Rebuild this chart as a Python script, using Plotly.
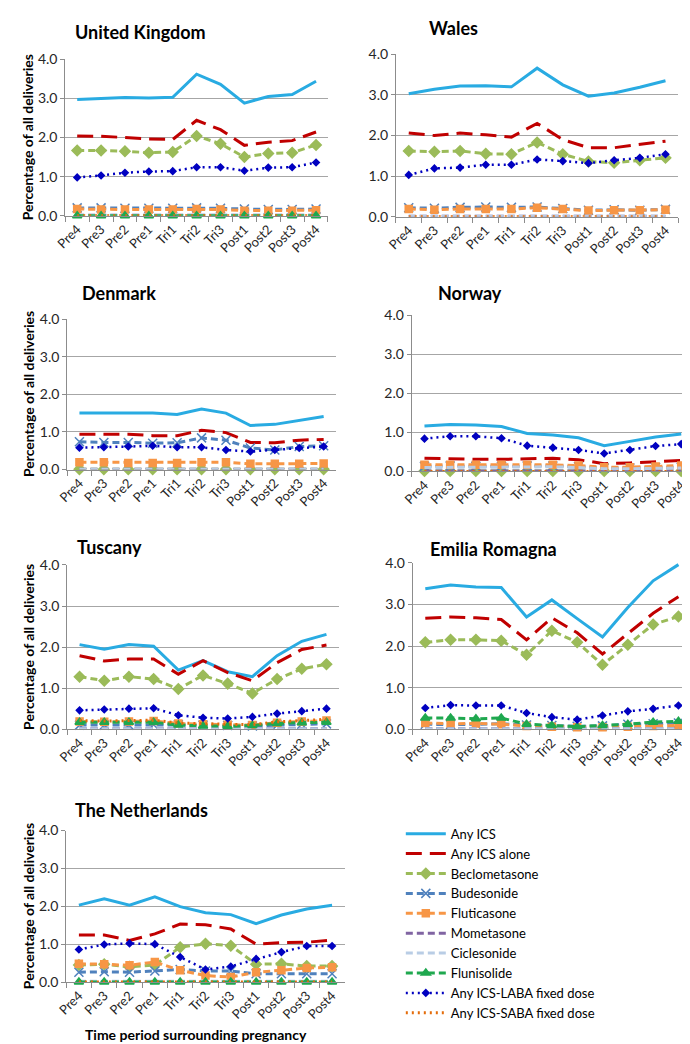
import plotly.graph_objects as go

periods = ["Pre4", "Pre3", "Pre2", "Pre1", "Tri1", "Tri2", "Tri3", "Post1", "Post2", "Post3", "Post4"]

series_names = ["Any ICS", "Any ICS alone", "Beclometasone", "Budesonide", "Fluticasone",
                "Mometasone", "Ciclesonide", "Flunisolide", "Any ICS-LABA fixed dose",
                "Any ICS-SABA fixed dose"]

uk = {
    "Any ICS": [2.97, 2.99, 3.02, 3.01, 3.03, 3.62, 3.36, 2.88, 3.05, 3.10, 3.44],
    "Any ICS alone": [2.04, 2.03, 2.00, 1.96, 1.95, 2.44, 2.20, 1.80, 1.88, 1.92, 2.14],
    "Beclometasone": [1.67, 1.67, 1.65, 1.61, 1.63, 2.04, 1.84, 1.50, 1.59, 1.61, 1.81],
    "Budesonide": [0.20, 0.20, 0.19, 0.19, 0.19, 0.20, 0.19, 0.17, 0.16, 0.16, 0.17],
    "Fluticasone": [0.17, 0.16, 0.16, 0.16, 0.16, 0.17, 0.16, 0.13, 0.13, 0.13, 0.14],
    "Mometasone": [0.01] * 11,
    "Ciclesonide": [0.01] * 11,
    "Flunisolide": [0.0] * 11,
    "Any ICS-LABA fixed dose": [0.98, 1.03, 1.10, 1.13, 1.14, 1.24, 1.24, 1.15, 1.23, 1.24, 1.36],
    "Any ICS-SABA fixed dose": [0.0] * 11,
}

wales = {
    "Any ICS": [3.03, 3.14, 3.22, 3.23, 3.20, 3.66, 3.25, 2.97, 3.05, 3.19, 3.35],
    "Any ICS alone": [2.06, 2.00, 2.06, 2.02, 1.96, 2.30, 1.90, 1.70, 1.70, 1.78, 1.86],
    "Beclometasone": [1.62, 1.60, 1.62, 1.55, 1.54, 1.83, 1.54, 1.36, 1.33, 1.39, 1.45],
    "Budesonide": [0.22, 0.21, 0.23, 0.24, 0.23, 0.24, 0.20, 0.16, 0.17, 0.16, 0.18],
    "Fluticasone": [0.19, 0.17, 0.19, 0.19, 0.19, 0.22, 0.19, 0.15, 0.16, 0.16, 0.17],
    "Mometasone": [0.01] * 11,
    "Ciclesonide": [0.01] * 11,
    "Flunisolide": [None] * 11,
    "Any ICS-LABA fixed dose": [1.03, 1.19, 1.21, 1.28, 1.28, 1.41, 1.37, 1.32, 1.39, 1.45, 1.54],
    "Any ICS-SABA fixed dose": [0.0] * 11,
}

denmark = {
    "Any ICS": [1.50, 1.50, 1.52, 1.50, 1.46, 1.61, 1.50, 1.17, 1.20, 1.30, 1.41],
    "Any ICS alone": [0.94, 0.94, 0.94, 0.90, 0.90, 1.04, 0.98, 0.72, 0.71, 0.78, 0.80],
    "Beclometasone": [0.01] * 11,
    "Budesonide": [0.74, 0.72, 0.72, 0.70, 0.71, 0.84, 0.78, 0.57, 0.52, 0.61, 0.63],
    "Fluticasone": [0.19, 0.19, 0.17, 0.17, 0.17, 0.19, 0.19, 0.15, 0.15, 0.15, 0.16],
    "Mometasone": [0.01] * 11,
    "Ciclesonide": [0.01] * 11,
    "Flunisolide": [None] * 11,
    "Any ICS-LABA fixed dose": [0.58, 0.59, 0.61, 0.63, 0.59, 0.59, 0.52, 0.48, 0.52, 0.57, 0.61],
    "Any ICS-SABA fixed dose": [None] * 11,
}

norway = {
    "Any ICS": [1.16, 1.20, 1.19, 1.15, 0.97, 0.93, 0.86, 0.66, 0.77, 0.88, 0.96],
    "Any ICS alone": [0.34, 0.32, 0.31, 0.31, 0.32, 0.34, 0.30, 0.20, 0.22, 0.25, 0.28],
    "Beclometasone": [0.01] * 11,
    "Budesonide": [0.13, 0.14, 0.13, 0.13, 0.14, 0.14, 0.12, 0.09, 0.09, 0.10, 0.11],
    "Fluticasone": [0.17, 0.17, 0.17, 0.17, 0.17, 0.17, 0.15, 0.11, 0.11, 0.13, 0.15],
    "Mometasone": [0.01] * 11,
    "Ciclesonide": [0.10, 0.11, 0.11, 0.11, 0.12, 0.12, 0.10, 0.07, 0.07, 0.08, 0.09],
    "Flunisolide": [None] * 11,
    "Any ICS-LABA fixed dose": [0.84, 0.90, 0.90, 0.85, 0.66, 0.61, 0.55, 0.46, 0.55, 0.65, 0.70],
    "Any ICS-SABA fixed dose": [0.0] * 11,
}

tuscany = {
    "Any ICS": [2.06, 1.95, 2.06, 2.02, 1.44, 1.67, 1.40, 1.28, 1.79, 2.14, 2.31],
    "Any ICS alone": [1.79, 1.66, 1.71, 1.71, 1.34, 1.67, 1.38, 1.18, 1.62, 1.94, 2.05],
    "Beclometasone": [1.28, 1.18, 1.28, 1.22, 0.98, 1.31, 1.11, 0.87, 1.22, 1.47, 1.58],
    "Budesonide": [0.10, 0.10, 0.10, 0.11, 0.11, 0.10, 0.09, 0.08, 0.10, 0.12, 0.13],
    "Fluticasone": [0.19, 0.18, 0.19, 0.20, 0.14, 0.12, 0.11, 0.10, 0.16, 0.19, 0.21],
    "Mometasone": [0.02] * 11,
    "Ciclesonide": [0.01] * 11,
    "Flunisolide": [0.17, 0.17, 0.17, 0.17, 0.10, 0.08, 0.07, 0.09, 0.14, 0.16, 0.17],
    "Any ICS-LABA fixed dose": [0.46, 0.48, 0.50, 0.51, 0.34, 0.28, 0.26, 0.30, 0.38, 0.44, 0.50],
    "Any ICS-SABA fixed dose": [0.21, 0.20, 0.21, 0.22, 0.15, 0.13, 0.12, 0.11, 0.18, 0.21, 0.24],
}

emilia = {
    "Any ICS": [3.38, 3.47, 3.42, 3.41, 2.70, 3.11, 2.66, 2.22, 2.93, 3.57, 3.96],
    "Any ICS alone": [2.67, 2.70, 2.68, 2.64, 2.15, 2.68, 2.32, 1.81, 2.30, 2.79, 3.19],
    "Beclometasone": [2.09, 2.15, 2.15, 2.13, 1.79, 2.37, 2.09, 1.55, 2.03, 2.52, 2.71],
    "Budesonide": [0.12, 0.11, 0.12, 0.13, 0.10, 0.09, 0.07, 0.08, 0.12, 0.13, 0.15],
    "Fluticasone": [0.15, 0.13, 0.14, 0.12, 0.08, 0.06, 0.05, 0.05, 0.06, 0.08, 0.09],
    "Mometasone": [0.02] * 11,
    "Ciclesonide": [0.01] * 11,
    "Flunisolide": [0.27, 0.27, 0.25, 0.27, 0.12, 0.09, 0.06, 0.09, 0.12, 0.17, 0.19],
    "Any ICS-LABA fixed dose": [0.51, 0.58, 0.57, 0.57, 0.39, 0.29, 0.23, 0.33, 0.43, 0.49, 0.57],
    "Any ICS-SABA fixed dose": [None] * 11,
}

netherlands = {
    "Any ICS": [2.03, 2.20, 2.03, 2.25, 1.99, 1.83, 1.78, 1.54, 1.77, 1.93, 2.03],
    "Any ICS alone": [1.24, 1.24, 1.10, 1.27, 1.53, 1.51, 1.40, 1.00, 1.04, 1.05, 1.11],
    "Beclometasone": [0.45, 0.47, 0.40, 0.45, 0.92, 1.01, 0.96, 0.47, 0.48, 0.42, 0.42],
    "Budesonide": [0.26, 0.27, 0.26, 0.29, 0.33, 0.29, 0.29, 0.22, 0.22, 0.22, 0.22],
    "Fluticasone": [0.48, 0.47, 0.44, 0.53, 0.31, 0.17, 0.13, 0.26, 0.31, 0.37, 0.39],
    "Mometasone": [0.01] * 11,
    "Ciclesonide": [0.02] * 11,
    "Flunisolide": [0.0] * 11,
    "Any ICS-LABA fixed dose": [0.86, 0.99, 1.02, 1.00, 0.66, 0.33, 0.41, 0.61, 0.79, 0.95, 0.95],
    "Any ICS-SABA fixed dose": [0.0] * 11,
}

countries = ["United Kingdom", "Wales", "Denmark", "Norway", "Tuscany", "Emilia Romagna", "The Netherlands"]
country_data = [uk, wales, denmark, norway, tuscany, emilia, netherlands]
y_ticks = [0, 1, 2, 3, 4]
y_tick_text = ["0.0", "1.0", "2.0", "3.0", "4.0"]

# ---------------- styling / layout ----------------
W, H = 690, 1044
FONT = "Lato, 'Open Sans', sans-serif"

styles = {
    "Any ICS": dict(color="#29ABE2", dash="solid", symbol=None, msize=0),
    "Any ICS alone": dict(color="#C00000", dash="16px,8px", symbol=None, msize=0),
    "Beclometasone": dict(color="#9BBB59", dash="7px,4px", symbol="diamond", msize=8),
    "Budesonide": dict(color="#4F81BD", dash="7px,4px", symbol="x-thin-open", msize=9),
    "Fluticasone": dict(color="#F79646", dash="7px,4px", symbol="square", msize=7),
    "Mometasone": dict(color="#8064A2", dash="7px,4px", symbol=None, msize=0),
    "Ciclesonide": dict(color="#B9CDE5", dash="7px,4px", symbol=None, msize=0),
    "Flunisolide": dict(color="#1FA84F", dash="7px,4px", symbol="triangle-up", msize=8),
    "Any ICS-LABA fixed dose": dict(color="#0000C0", dash="2px,4px", symbol="diamond", msize=5),
    "Any ICS-SABA fixed dose": dict(color="#E46C0A", dash="2px,4px", symbol=None, msize=0),
}

# panel pixel boxes: left, right, top(4.0), bottom(0.0)
boxes = [
    (47, 314, 43, 202),
    (383, 670, 38, 203),
    (49, 322, 307, 460),
    (399, 686, 303, 462),
    (49, 325, 557, 724),
    (400, 683, 555, 724),
    (48, 331, 827, 981),
]
title_pos = [(123, 15), (442, 11), (102, 281), (458, 281), (92, 539), (482, 541), (124, 806)]
left_panels = [0, 2, 4, 6]

fig = go.Figure()
annotations = []
layout_axes = {}

for i, (cname, data) in enumerate(zip(countries, country_data)):
    ax = "" if i == 0 else str(i + 1)
    for name in series_names:
        st = styles[name]
        mode = "lines+markers" if st["symbol"] else "lines"
        marker = dict(symbol=st["symbol"], size=st["msize"], color=st["color"],
                      line=dict(color=st["color"], width=1.5)) if st["symbol"] else None
        fig.add_trace(go.Scatter(
            x=periods, y=data[name], name=name, mode=mode,
            line=dict(color=st["color"], width=3 if name != "Any ICS-LABA fixed dose" else 2.5,
                      dash=st["dash"]),
            marker=marker, xaxis="x" + ax, yaxis="y" + ax,
            legendgroup=name, showlegend=(i == 0), cliponaxis=False,
            connectgaps=False,
        ))
    l, r, t, b = boxes[i]
    layout_axes["xaxis" + ax] = dict(
        domain=[l / W, r / W], anchor="y" + ax, type="category",
        categoryorder="array", categoryarray=periods, range=[-0.5, 10.5],
        showgrid=False, showline=True, linecolor="#8C8C8C", linewidth=1,
        ticks="outside", tickson="boundaries", ticklen=5, tickcolor="#8C8C8C",
        tickangle=-45, tickfont=dict(family=FONT, size=13, color="#262626"),
        fixedrange=True,
    )
    layout_axes["yaxis" + ax] = dict(
        domain=[1 - b / H, 1 - t / H], anchor="x" + ax, range=[0, 4],
        tickvals=y_ticks, ticktext=y_tick_text, showgrid=True, gridcolor="#A6A6A6",
        gridwidth=1, showline=True, linecolor="#8C8C8C", linewidth=1,
        ticks="outside", ticklen=4, tickcolor="#8C8C8C", zeroline=False,
        tickfont=dict(family=FONT, size=14, color="#262626"), fixedrange=True,
    )
    tx, ty = title_pos[i]
    annotations.append(dict(
        text="<b>%s</b>" % cname, x=tx / W, y=1 - ty / H, xref="paper", yref="paper",
        showarrow=False, xanchor="center", yanchor="middle",
        font=dict(family=FONT, size=18, color="#000000"),
    ))
    if i in left_panels:
        annotations.append(dict(
            text="<b>Percentage of all deliveries</b>", x=9 / W, y=1 - ((t + b) / 2) / H,
            xref="paper", yref="paper", showarrow=False, textangle=-90,
            xanchor="center", yanchor="middle",
            font=dict(family=FONT, size=14, color="#000000"),
        ))

annotations.append(dict(
    text="<b>Time period surrounding pregnancy</b>", x=180 / W, y=1 - 1034 / H,
    xref="paper", yref="paper", showarrow=False, xanchor="center", yanchor="middle",
    font=dict(family=FONT, size=14, color="#000000"),
))

fig.update_layout(
    width=W, height=H, margin=dict(l=0, r=0, t=0, b=0),
    paper_bgcolor="white", plot_bgcolor="white",
    font=dict(family=FONT, color="#000000"),
    annotations=annotations,
    showlegend=True,
    legend=dict(x=388 / W, y=1 - 815 / H, xanchor="left", yanchor="top",
                font=dict(family=FONT, size=13, color="#000000"),
                tracegroupgap=0, bgcolor="rgba(0,0,0,0)", itemwidth=40),
    **layout_axes,
)

fig.write_html("out.html")
